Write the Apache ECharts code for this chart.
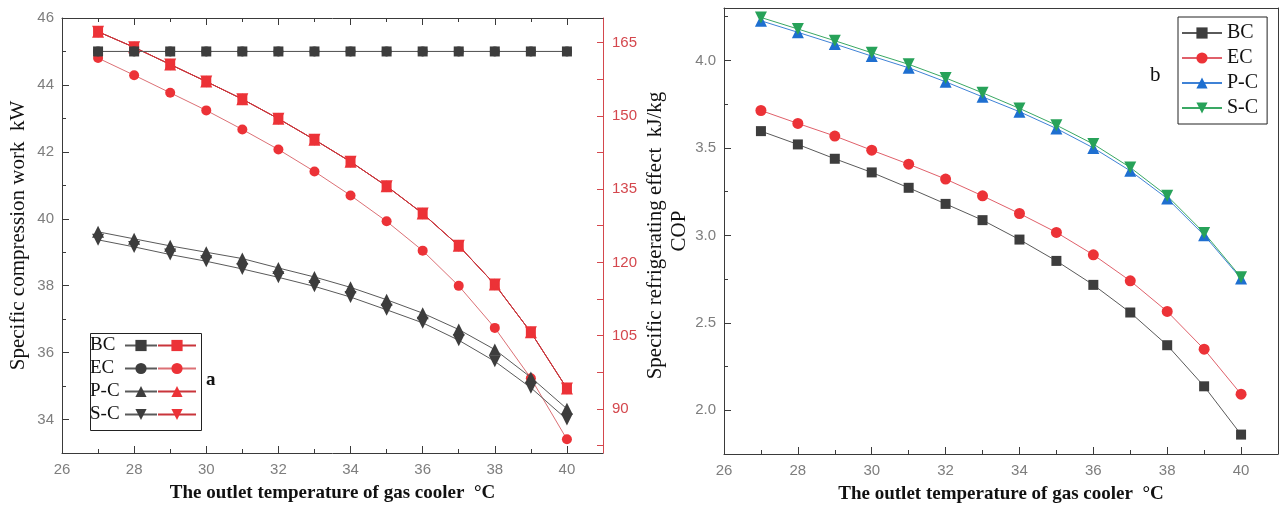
<!DOCTYPE html>
<html>
<head>
<meta charset="utf-8">
<script src="https://cdn.jsdelivr.net/npm/echarts@6/dist/echarts.min.js"></script>
<style>
html,body{margin:0;padding:0;background:#fff;}
#chart{width:1280px;height:515px;}
</style>
</head>
<body>
<div id="chart"></div>
<script>
// ---- data ----
const temps = [27,28,29,30,31,32,33,34,35,36,37,38,39,40];

// (a) specific compression work, kW (left axis)
const workBC = [45,45,45,45,45,45,45,45,45,45,45,45,45,45];
const workEC = [45,45,45,45,45,45,45,45,45,45,45,45,45,45];
const workPC = [39.61,39.40,39.19,39.00,38.81,38.53,38.26,37.95,37.58,37.18,36.69,36.09,35.26,34.32];
const workSC = [39.37,39.16,38.93,38.73,38.50,38.25,37.98,37.66,37.28,36.89,36.37,35.74,34.95,34.00];

// (a) specific refrigerating effect, kJ/kg (right axis)
const effectBC = [167.2,164.0,160.5,157.0,153.4,149.4,145.1,140.6,135.6,130.0,123.4,115.5,105.7,94.2];
const effectEC = [161.8,158.3,154.7,151.1,147.2,143.1,138.6,133.7,128.4,122.4,115.2,106.6,96.3,83.8];
const effectPC = [167.2,164.0,160.5,157.0,153.4,149.4,145.1,140.6,135.6,130.0,123.4,115.5,105.7,94.2];
const effectSC = [167.2,164.0,160.5,157.0,153.4,149.4,145.1,140.6,135.6,130.0,123.4,115.5,105.7,94.2];

// (b) COP
const copBC = [3.596,3.520,3.438,3.360,3.272,3.180,3.087,2.976,2.854,2.717,2.559,2.372,2.137,1.861];
const copEC = [3.714,3.640,3.568,3.487,3.407,3.322,3.226,3.125,3.017,2.889,2.740,2.565,2.349,2.092];
const copPC = [4.227,4.161,4.094,4.025,3.958,3.878,3.792,3.707,3.611,3.500,3.369,3.211,3.001,2.753];
const copSC = [4.246,4.180,4.113,4.044,3.978,3.900,3.815,3.726,3.630,3.522,3.388,3.226,3.014,2.760];

// ---- ticks ----
const xLabels = [26,28,30,32,34,36,38,40];
const xMinor = [27,29,31,33,35,37,39];
const workLabels = [34,36,38,40,42,44,46];
const workMinor = [35,37,39,41,43,45];
const effectLabels = [90,105,120,135,150,165];
const effectTicks = [82.5,90,97.5,105,112.5,120,127.5,135,142.5,150,157.5,165];
const copLabels = [2.0,2.5,3.0,3.5,4.0];
const copMinor = [2.25,2.75,3.25,3.75,4.25];

const names = ['BC','EC','P-C','S-C'];
const xTitle = 'The outlet temperature of gas cooler  \u00B0C';

// ---- styles ----
const SERIF = '"Liberation Serif","DejaVu Serif",serif';
const SANS = '"Liberation Sans","DejaVu Sans",sans-serif';
const AXIS = '#3a3a3a';
const RED_AX = '#d4474d';
const tickFont = {fontFamily: SANS, fontSize: 15, color: '#7e7e7e'};

const pairs = ys => temps.map((t, i) => [t, ys[i]]);

function axis(o) {
  const a = {
    type: 'value', gridIndex: o.grid, position: o.pos, min: o.min, max: o.max,
    splitLine: {show: false},
    axisLine: {show: !!o.line, onZero: false, lineStyle: {color: o.color || AXIS, width: 1}},
    axisTick: o.ticks ? {show: true, inside: true, length: o.len || 7, customValues: o.ticks,
      lineStyle: {color: o.color || AXIS}} : {show: false},
    axisLabel: o.labels ? Object.assign({show: true, customValues: o.labels, margin: o.margin || 8,
      formatter: o.fmt || (v => String(v))}, tickFont, o.labelColor ? {color: o.labelColor} : {}) : {show: false},
    z: 3
  };
  if (o.name) {
    a.name = o.name;
    a.nameLocation = 'middle';
    a.nameGap = o.gap;
    a.nameMoveOverlap = false;
    if (o.rotate !== undefined) a.nameRotate = o.rotate;
    a.nameTextStyle = Object.assign({fontFamily: SERIF, fontSize: 21, color: '#111'}, o.nameStyle || {});
  }
  return a;
}

const xAxis = [
  // chart a
  axis({grid: 0, pos: 'bottom', min: 26, max: 41, line: true, ticks: xLabels, labels: xLabels, margin: 9,
        name: xTitle, gap: 31, nameStyle: {fontWeight: 'bold', fontSize: 19}}),
  axis({grid: 0, pos: 'bottom', min: 26, max: 41, ticks: xMinor, len: 4}),
  axis({grid: 0, pos: 'top', min: 26, max: 41, line: true, ticks: xLabels}),
  axis({grid: 0, pos: 'top', min: 26, max: 41, ticks: xMinor, len: 4}),
  // chart b
  axis({grid: 1, pos: 'bottom', min: 26, max: 41, line: true, ticks: xLabels, labels: xLabels, margin: 9,
        name: xTitle, gap: 31, nameStyle: {fontWeight: 'bold', fontSize: 19}}),
  axis({grid: 1, pos: 'bottom', min: 26, max: 41, ticks: xMinor, len: 4}),
  axis({grid: 1, pos: 'top', min: 26, max: 41, line: true})
];

const yAxis = [
  // chart a (0,1,2)
  axis({grid: 0, pos: 'left', min: 33, max: 46, line: true, ticks: workLabels, labels: workLabels, margin: 8,
        name: 'Specific compression work  kW', gap: 33, rotate: 90}),
  axis({grid: 0, pos: 'left', min: 33, max: 46, ticks: workMinor, len: 4}),
  axis({grid: 0, pos: 'right', min: 81, max: 170, line: true, color: RED_AX, ticks: effectTicks, len: 6,
        labels: effectLabels, labelColor: RED_AX, margin: 9,
        name: 'Specific refrigerating effect  kJ/kg', gap: 42, rotate: 90}),
  // chart b (3,4,5)
  axis({grid: 1, pos: 'left', min: 1.75, max: 4.3, line: true, ticks: copLabels, labels: copLabels, margin: 8,
        fmt: v => Number(v).toFixed(1), name: 'COP', gap: 34, rotate: 90}),
  axis({grid: 1, pos: 'left', min: 1.75, max: 4.3, ticks: copMinor, len: 4}),
  axis({grid: 1, pos: 'right', min: 1.75, max: 4.3, line: true})
];

const BLACK = '#3d3d3d', RED = '#ec3237', BLUE = '#1e6fd0', GREEN = '#27a259';

function ser(name, data, xi, yi, color, symbol, size, lineColor, rot, z, lw) {
  return {
    name: name, type: 'line', xAxisIndex: xi, yAxisIndex: yi, data: pairs(data),
    symbol: symbol, symbolSize: size, symbolRotate: rot || 0, z: z || 2,
    itemStyle: {color: color}, lineStyle: {color: lineColor || color, width: lw || 1},
    animation: false, showSymbol: true
  };
}

const TRI_DOWN = 'path://M0,0 L10,0 L5,8.7 Z';

const series = [
  // chart a — refrigerating effect (red, right axis)
  ser('EC r', effectEC, 0, 2, RED, 'circle', 10, '#dc7075', 0, 2),
  ser('BC r', effectBC, 0, 2, RED, 'rect', 10, '#c9353b', 0, 2),
  ser('P-C r', effectPC, 0, 2, RED, 'triangle', 12, '#c9353b', 0, 2),
  ser('S-C r', effectSC, 0, 2, RED, TRI_DOWN, 12, '#c9353b', 0, 2),
  // chart a — compression work (black, left axis)
  ser('EC', workEC, 0, 0, BLACK, 'circle', 10, '#5a5a5a', 0, 3),
  ser('BC', workBC, 0, 0, BLACK, 'rect', 10, '#5a5a5a', 0, 3),
  ser('P-C', workPC, 0, 0, BLACK, 'triangle', 12, '#5a5a5a', 0, 3),
  ser('S-C', workSC, 0, 0, BLACK, TRI_DOWN, 12, '#5a5a5a', 0, 3),
  // chart b — COP
  ser('BC ', copBC, 4, 3, BLACK, 'rect', 10, '#5a5a5a'),
  ser('EC ', copEC, 4, 3, RED, 'circle', 11, '#e0606a'),
  ser('P-C ', copPC, 4, 3, BLUE, 'triangle', 12, '#3f82d6'),
  ser('S-C ', copSC, 4, 3, GREEN, TRI_DOWN, 12, '#3aa864')
];

const legendText = {fontFamily: SERIF, fontSize: 19, color: '#111'};

const option = {
  backgroundColor: '#fff',
  animation: false,
  grid: [
    {left: 62, top: 18, width: 541, height: 435, containLabel: false},
    {left: 724, top: 8, width: 554, height: 446, containLabel: false}
  ],
  xAxis: xAxis,
  yAxis: yAxis,
  legend: [
    {data: names, orient: 'vertical', left: 90, top: 336, align: 'right',
     itemWidth: 32, itemHeight: 14, itemGap: 4, padding: 0, selectedMode: false,
     formatter: n => '{t|' + n + '}',
     textStyle: Object.assign({rich: {t: Object.assign({width: 30, align: 'left'}, legendText)}}, legendText)},
    {data: names.map(n => n + ' r'), orient: 'vertical', left: 157, top: 336,
     itemWidth: 38, itemHeight: 14, itemGap: 4, padding: 0, selectedMode: false,
     formatter: () => ' ', textStyle: Object.assign({width: 1}, legendText)},
    {data: names.map(n => n + ' '), orient: 'vertical', left: 1178, top: 17,
     itemWidth: 40, itemHeight: 14, itemGap: 5, padding: [6, 4, 6, 3], selectedMode: false,
     borderColor: '#222', borderWidth: 1,
     textStyle: {fontFamily: SERIF, fontSize: 20, color: '#111'}}
  ],
  graphic: [
    {type: 'rect', left: 88, top: 331, shape: {width: 111, height: 97},
     style: {fill: null, stroke: '#222', lineWidth: 1}, z: 10},
    {type: 'text', left: 206, top: 371, style: {text: 'a', fontFamily: SERIF, fontSize: 19, fontWeight: 'bold', fill: '#111'}},
    {type: 'text', left: 1150, top: 65, style: {text: 'b', fontFamily: SERIF, fontSize: 21, fill: '#111'}}
  ],
  series: series
};

const chart = echarts.init(document.getElementById('chart'), null, {renderer: 'canvas'});
chart.setOption(option);
</script>
</body>
</html>
